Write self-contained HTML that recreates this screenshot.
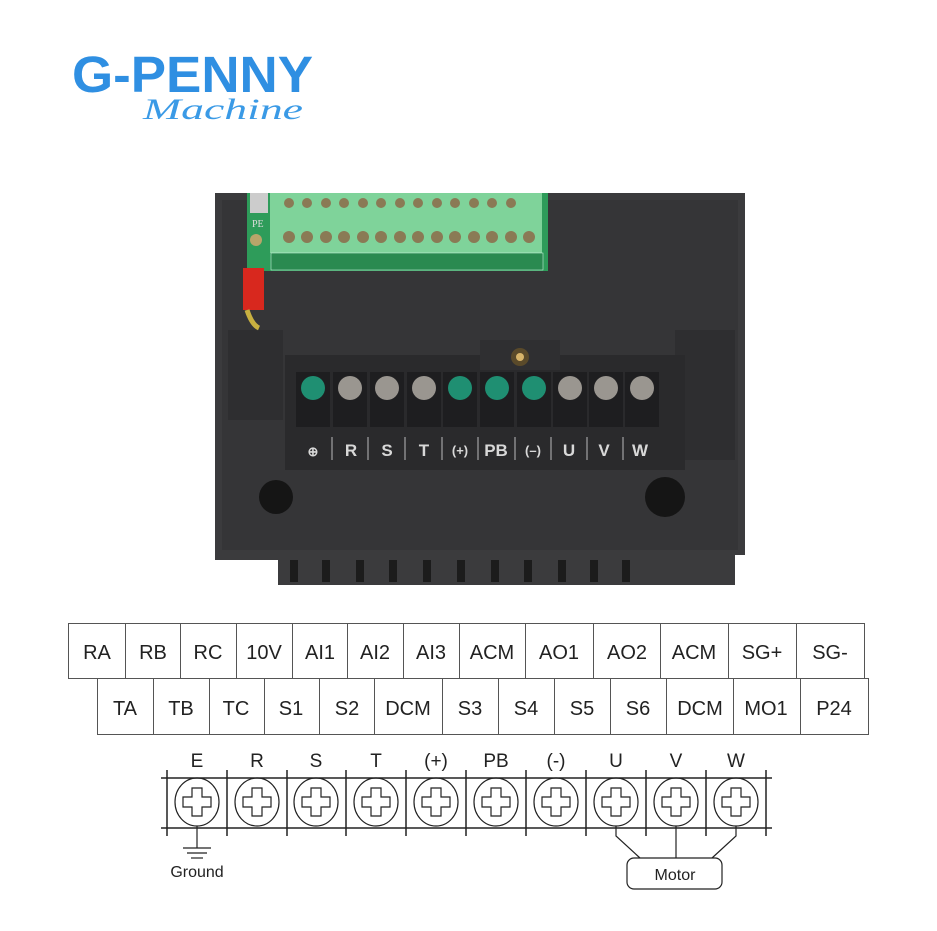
<!DOCTYPE html>
<html><head><meta charset="utf-8"><style>
html,body{margin:0;padding:0;background:#fff;}
svg{display:block}
</style></head><body>
<svg width="937" height="931" viewBox="0 0 937 931" xmlns="http://www.w3.org/2000/svg">
<!-- Logo -->
<text x="72" y="92" font-family="Liberation Sans, sans-serif" font-weight="bold" font-size="51" fill="#2f8fe2" textLength="241" lengthAdjust="spacingAndGlyphs">G-PENNY</text>
<text x="143" y="119" font-family="Liberation Serif, serif" font-style="italic" font-size="30" fill="#3a9ae6" textLength="160" lengthAdjust="spacingAndGlyphs">Machine</text>

<!-- Device body -->
<path d="M215 193 L745 193 L745 555 L735 555 L735 585 L278 585 L278 560 L215 560 Z" fill="#3b3b3d"/>
<rect x="222" y="200" width="516" height="350" fill="#353537"/>
<rect x="228" y="330" width="55" height="90" fill="#2e2e30"/>
<rect x="675" y="330" width="60" height="130" fill="#2e2e30"/>
<!-- PCB -->
<rect x="247" y="193" width="301" height="78" fill="#2e9c5a"/>
<rect x="270" y="193" width="272" height="60" fill="#7fd39a"/>
<g fill="#8a7a55">
<circle cx="289" cy="203" r="5"/><circle cx="307" cy="203" r="5"/><circle cx="326" cy="203" r="5"/><circle cx="344" cy="203" r="5"/><circle cx="363" cy="203" r="5"/><circle cx="381" cy="203" r="5"/><circle cx="400" cy="203" r="5"/><circle cx="418" cy="203" r="5"/><circle cx="437" cy="203" r="5"/><circle cx="455" cy="203" r="5"/><circle cx="474" cy="203" r="5"/><circle cx="492" cy="203" r="5"/><circle cx="511" cy="203" r="5"/>
<circle cx="289" cy="237" r="6"/><circle cx="307" cy="237" r="6"/><circle cx="326" cy="237" r="6"/><circle cx="344" cy="237" r="6"/><circle cx="363" cy="237" r="6"/><circle cx="381" cy="237" r="6"/><circle cx="400" cy="237" r="6"/><circle cx="418" cy="237" r="6"/><circle cx="437" cy="237" r="6"/><circle cx="455" cy="237" r="6"/><circle cx="474" cy="237" r="6"/><circle cx="492" cy="237" r="6"/><circle cx="511" cy="237" r="6"/><circle cx="529" cy="237" r="6"/>
</g>
<rect x="271" y="253" width="272" height="17" fill="#2a8a50" stroke="#dfe" stroke-width="0.5"/>
<rect x="250" y="193" width="18" height="20" fill="#ccc"/>
<text x="252" y="227" font-family="Liberation Serif, serif" font-size="10" fill="#ddd">PE</text>
<circle cx="256" cy="240" r="6" fill="#b9a56a"/>
<rect x="243" y="268" width="21" height="42" fill="#d8281e"/>
<path d="M247 310 q5 15 12 18" stroke="#c8b040" stroke-width="5" fill="none"/>
<!-- terminal strip -->
<rect x="285" y="355" width="400" height="115" fill="#2a2a2c"/>
<rect x="480" y="340" width="80" height="30" fill="#2f2f31"/>
<circle cx="520" cy="357" r="9" fill="#5a4a2a"/><circle cx="520" cy="357" r="4" fill="#d7b46a"/>
<g>
<rect x="296" y="372" width="34" height="55" fill="#1e1e20"/><circle cx="313" cy="388" r="12" fill="#1f8f72"/>
<rect x="333" y="372" width="34" height="55" fill="#1e1e20"/><circle cx="350" cy="388" r="12" fill="#9a9690"/>
<rect x="370" y="372" width="34" height="55" fill="#1e1e20"/><circle cx="387" cy="388" r="12" fill="#9a9690"/>
<rect x="407" y="372" width="34" height="55" fill="#1e1e20"/><circle cx="424" cy="388" r="12" fill="#9a9690"/>
<rect x="443" y="372" width="34" height="55" fill="#1e1e20"/><circle cx="460" cy="388" r="12" fill="#1f8f72"/>
<rect x="480" y="372" width="34" height="55" fill="#1e1e20"/><circle cx="497" cy="388" r="12" fill="#1f8f72"/>
<rect x="517" y="372" width="34" height="55" fill="#1e1e20"/><circle cx="534" cy="388" r="12" fill="#1f8f72"/>
<rect x="553" y="372" width="34" height="55" fill="#1e1e20"/><circle cx="570" cy="388" r="12" fill="#9a9690"/>
<rect x="589" y="372" width="34" height="55" fill="#1e1e20"/><circle cx="606" cy="388" r="12" fill="#9a9690"/>
<rect x="625" y="372" width="34" height="55" fill="#1e1e20"/><circle cx="642" cy="388" r="12" fill="#9a9690"/>
</g>
<g font-family="Liberation Sans, sans-serif" font-weight="bold" font-size="17" fill="#d8d8d8" text-anchor="middle">
<text x="313" y="456" font-size="13">⊕</text><text x="351" y="456">R</text><text x="387" y="456">S</text><text x="424" y="456">T</text><text x="460" y="455" font-size="13">(+)</text><text x="496" y="456">PB</text><text x="533" y="455" font-size="13">(–)</text><text x="569" y="456">U</text><text x="604" y="456">V</text><text x="640" y="456">W</text>
</g>
<g stroke="#bbb" stroke-width="1"><line x1="332" y1="437" x2="332" y2="460"/><line x1="368" y1="437" x2="368" y2="460"/><line x1="405" y1="437" x2="405" y2="460"/><line x1="442" y1="437" x2="442" y2="460"/><line x1="478" y1="437" x2="478" y2="460"/><line x1="515" y1="437" x2="515" y2="460"/><line x1="551" y1="437" x2="551" y2="460"/><line x1="587" y1="437" x2="587" y2="460"/><line x1="623" y1="437" x2="623" y2="460"/></g>
<circle cx="276" cy="497" r="17" fill="#151515"/><circle cx="665" cy="497" r="20" fill="#151515"/>
<g fill="#1c1c1c"><rect x="290" y="560" width="8" height="22"/><rect x="322" y="560" width="8" height="22"/><rect x="356" y="560" width="8" height="22"/><rect x="389" y="560" width="8" height="22"/><rect x="423" y="560" width="8" height="22"/><rect x="457" y="560" width="8" height="22"/><rect x="491" y="560" width="8" height="22"/><rect x="524" y="560" width="8" height="22"/><rect x="558" y="560" width="8" height="22"/><rect x="590" y="560" width="8" height="22"/><rect x="622" y="560" width="8" height="22"/></g>

<!-- Table -->
<g stroke="#555" stroke-width="1" fill="none">
<rect x="68.5" y="623.5" width="796" height="55"/>
<rect x="97.5" y="678.5" width="771" height="56"/>
<path d="M125.5 623v55M180.5 623v55M236.5 623v55M292.5 623v55M347.5 623v55M403.5 623v55M459.5 623v55M525.5 623v55M593.5 623v55M660.5 623v55M728.5 623v55M796.5 623v55"/>
<path d="M153.5 678v56M209.5 678v56M264.5 678v56M319.5 678v56M374.5 678v56M442.5 678v56M498.5 678v56M554.5 678v56M610.5 678v56M666.5 678v56M733.5 678v56M800.5 678v56"/>
</g>
<g font-family="Liberation Sans, sans-serif" font-size="20" fill="#222" text-anchor="middle">
<text x="97" y="659">RA</text><text x="153" y="659">RB</text><text x="208" y="659">RC</text><text x="264" y="659">10V</text><text x="320" y="659">AI1</text><text x="375" y="659">AI2</text><text x="431" y="659">AI3</text><text x="492" y="659">ACM</text><text x="559" y="659">AO1</text><text x="627" y="659">AO2</text><text x="694" y="659">ACM</text><text x="762" y="659">SG+</text><text x="830" y="659">SG-</text>
<text x="125" y="715">TA</text><text x="181" y="715">TB</text><text x="236" y="715">TC</text><text x="291" y="715">S1</text><text x="347" y="715">S2</text><text x="408" y="715">DCM</text><text x="470" y="715">S3</text><text x="526" y="715">S4</text><text x="582" y="715">S5</text><text x="638" y="715">S6</text><text x="700" y="715">DCM</text><text x="766" y="715">MO1</text><text x="834" y="715">P24</text>
</g>

<!-- terminal diagram -->
<g font-family="Liberation Sans, sans-serif" font-size="19" fill="#222" text-anchor="middle">
<text x="197" y="767">E</text><text x="257" y="767">R</text><text x="316" y="767">S</text><text x="376" y="767">T</text><text x="436" y="767">(+)</text><text x="496" y="767">PB</text><text x="556" y="767">(-)</text><text x="616" y="767">U</text><text x="676" y="767">V</text><text x="736" y="767">W</text>
</g>
<g stroke="#222" stroke-width="1.5" fill="none">
<line x1="161" y1="778" x2="772" y2="778"/><line x1="161" y1="828" x2="772" y2="828"/>
<path d="M167 770v66M227 770v66M287 770v66M346 770v66M406 770v66M466 770v66M526 770v66M586 770v66M646 770v66M706 770v66M766 770v66"/>
</g>
<g stroke="#222" stroke-width="1.2" fill="none">
<g id="scr"><ellipse cx="197" cy="802" rx="22" ry="24"/><path d="M192 788h10v9h9v10h-9v9h-10v-9h-9v-10h9z"/></g>
<use href="#scr" x="60"/><use href="#scr" x="119"/><use href="#scr" x="179"/><use href="#scr" x="239"/><use href="#scr" x="299"/><use href="#scr" x="359"/><use href="#scr" x="419"/><use href="#scr" x="479"/><use href="#scr" x="539"/>
<line x1="197" y1="826" x2="197" y2="848"/>
<line x1="183" y1="848" x2="211" y2="848"/><line x1="187" y1="853" x2="207" y2="853"/><line x1="191" y1="858" x2="203" y2="858"/>
<path d="M616 826v10l24 22M676 826v32M736 826v10l-24 22"/>
<rect x="627" y="858" width="95" height="31" rx="7"/>
</g>
<text x="197" y="877" font-family="Liberation Sans, sans-serif" font-size="16" fill="#222" text-anchor="middle">Ground</text>
<text x="675" y="880" font-family="Liberation Sans, sans-serif" font-size="16" fill="#222" text-anchor="middle">Motor</text>
</svg>
</body></html>
